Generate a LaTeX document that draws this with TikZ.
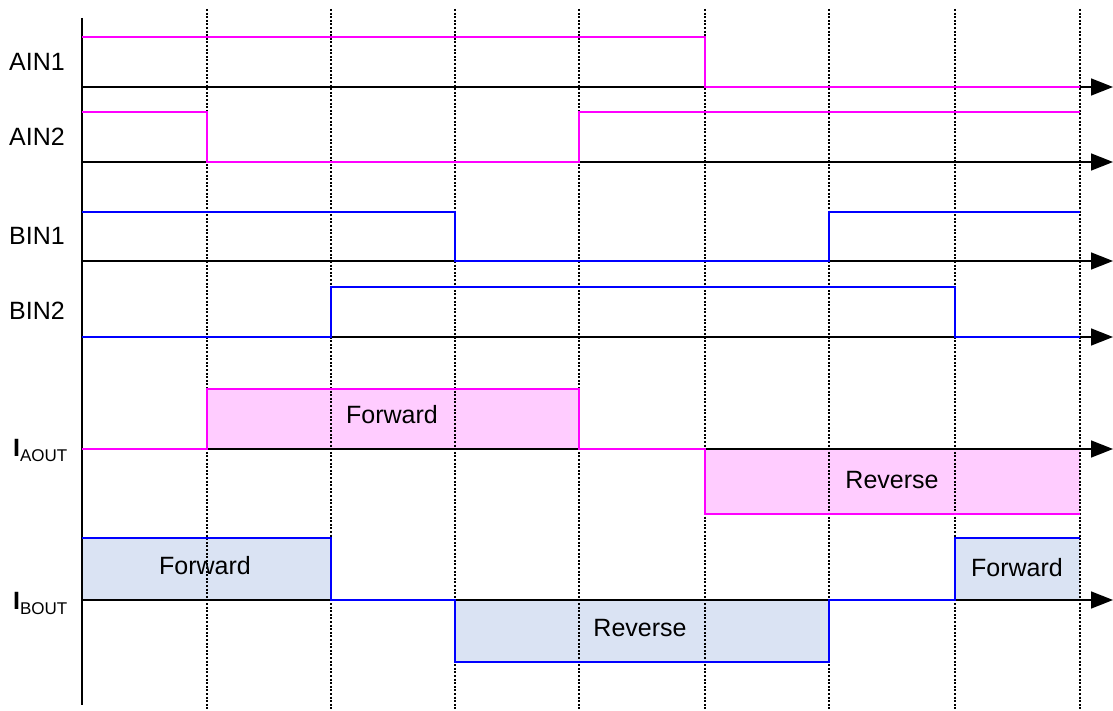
\documentclass[tikz,border=0pt]{standalone}
\usepackage{fontspec}
\setmainfont{Liberation Sans}
\usetikzlibrary{arrows.meta}

\definecolor{sigA}{RGB}{255,0,255}
\definecolor{fillA}{RGB}{255,204,255}
\definecolor{sigB}{RGB}{0,0,255}
\definecolor{fillB}{RGB}{218,227,243}

\tikzset{
  axis/.style={black, line width=1.6pt, -{Triangle[length=22pt,width=17pt]}},
  tick line/.style={black, line width=1.4pt, dash pattern=on 2pt off 1.6pt},
  sig a/.style={sigA, line width=1.8pt},
  sig b/.style={sigB, line width=1.8pt},
  lbl/.style={font=\fontsize{25}{30}\selectfont, inner sep=0pt},
}
\newcommand{\cursub}[1]{\textbf{I}\raisebox{-5pt}{\fontsize{17}{20}\selectfont #1}}

\begin{document}
\begin{tikzpicture}[x=1pt, y=-1pt]
\useasboundingbox (0,0) rectangle (1113,711);

% current boxes
\fill[fillA] (207,389) rectangle (579,449);
\fill[fillA] (705,449) rectangle (1080,514);
\fill[fillB] (82,538) rectangle (331,600);
\fill[fillB] (455,600) rectangle (829,662);
\fill[fillB] (955,538) rectangle (1080,600);

% time steps
\foreach \t in {207,331,455,579,705,829,955,1080}
  \draw[tick line] (\t,9) -- (\t,711);

% axes
\coordinate (top) at (82,18);
\coordinate (bottom) at (82,705);
\draw[black, line width=1.6pt] (top) -- (bottom);
\foreach \name/\y in {ain1/87, ain2/162, bin1/261, bin2/337, iaout/449, ibout/600} {
  \coordinate (\name l) at (82,\y);
  \coordinate (\name r) at (1113,\y);
  \draw[axis] (\name l) -- (\name r);
}

% signal names
\node[lbl] (nain1) at (37,62) {AIN1};
\node[lbl] (nain2) at (37,137) {AIN2};
\node[lbl] (nbin1) at (37,236) {BIN1};
\node[lbl] (nbin2) at (37,311) {BIN2};
\node[lbl, anchor=base west] (niaout) at (13,456) {\cursub{AOUT}};
\node[lbl, anchor=base west] (nibout) at (13,609) {\cursub{BOUT}};

% inputs
\draw[sig a] (82,37) -- (705,37) -- (705,87) -- (1080,87);
\draw[sig a] (82,112) -- (207,112) -- (207,162) -- (579,162) -- (579,112) -- (1080,112);
\draw[sig b] (82,212) -- (455,212) -- (455,261) -- (829,261) -- (829,212) -- (1080,212);
\draw[sig b] (82,337) -- (331,337) -- (331,287) -- (955,287) -- (955,337) -- (1080,337);

% outputs
\draw[sig a] (82,449) -- (207,449) -- (207,389) -- (579,389) -- (579,449)
  -- (705,449) -- (705,514) -- (1080,514);
\draw[sig b] (82,538) -- (331,538) -- (331,600) -- (455,600) -- (455,662)
  -- (829,662) -- (829,600) -- (955,600) -- (955,538) -- (1080,538);

\node[lbl] (fwda) at (392,415) {Forward};
\node[lbl] (reva) at (892,480) {Reverse};
\node[lbl] (fwdb1) at (205,566) {Forward};
\node[lbl] (revb) at (640,628) {Reverse};
\node[lbl] (fwdb2) at (1017,568) {Forward};
\end{tikzpicture}
\end{document}
